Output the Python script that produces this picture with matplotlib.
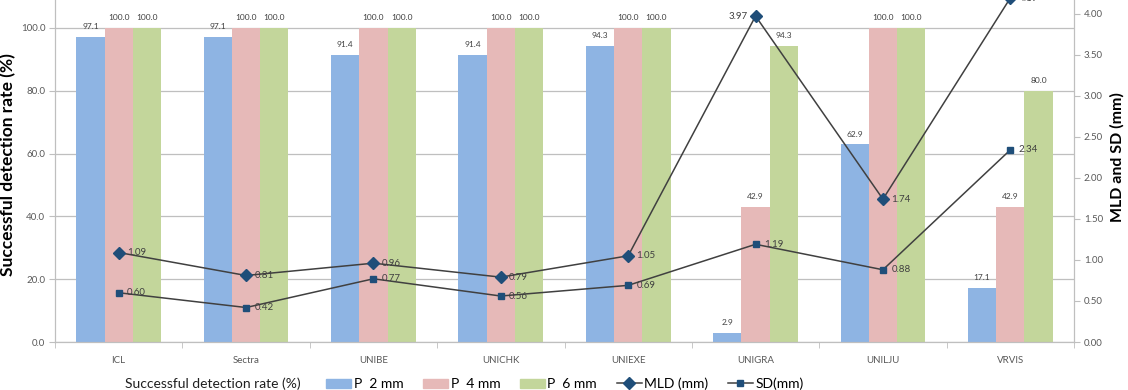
import matplotlib
matplotlib.use("Agg")
import matplotlib.pyplot as plt
import numpy as np
from matplotlib.lines import Line2D
from matplotlib.patches import Patch

plt.rcParams['font.family'] = ['Lato', 'DejaVu Sans']

categories = ["ICL", "Sectra", "UNIBE", "UNICHK", "UNIEXE", "UNIGRA", "UNILJU", "VRVIS"]
p2 = [97.1, 97.1, 91.4, 91.4, 94.3, 2.9, 62.9, 17.1]
p4 = [100.0, 100.0, 100.0, 100.0, 100.0, 42.9, 100.0, 42.9]
p6 = [100.0, 100.0, 100.0, 100.0, 100.0, 94.3, 100.0, 80.0]
mld = [1.09, 0.81, 0.96, 0.79, 1.05, 3.97, 1.74, 4.19]
sd = [0.60, 0.42, 0.77, 0.56, 0.69, 1.19, 0.88, 2.34]
left_ticks = [0, 20, 40, 60, 80, 100]
right_ticks = [0, 0.5, 1.0, 1.5, 2.0, 2.5, 3.0, 3.5, 4.0]

c_blue = "#8EB4E3"
c_pink = "#E6B9B8"
c_green = "#C3D69B"
c_line = "#404040"
c_mark = "#1F4E79"
c_txt = "#404040"
c_grid = "#BFBFBF"

W, H = 1128, 390
fig = plt.figure(figsize=(W / 100, H / 100), dpi=100)
ax_left_px, ax_right_px = 55, 1074
ax_bottom_px = 342
ax_h_px = 360
ax_w_px = ax_right_px - ax_left_px
ax = fig.add_axes([ax_left_px / W, (H - ax_bottom_px) / H, ax_w_px / W, ax_h_px / H])
L = ax_h_px / 3.14
R = ax_h_px / 82.1

x = np.arange(len(categories))
bw = 0.222
for i, (vals, col) in enumerate([(p2, c_blue), (p4, c_pink), (p6, c_green)]):
    ax.bar(x + (i - 1) * bw, vals, bw, color=col, zorder=2)
    for xi, v in zip(x + (i - 1) * bw, vals):
        ax.annotate(f"{v:.1f}", (xi, v), xytext=(0, 5), textcoords="offset points",
                    ha="center", va="bottom", fontsize=6, color=c_txt)

ax.set_xlim(-0.5, len(categories) - 0.5)
ax.set_ylim(0, L)
ax.set_yticks(left_ticks)
ax.set_yticklabels([f"{t:.1f}" for t in left_ticks], fontsize=7, color="#595959")
ax.yaxis.grid(True, color=c_grid, linewidth=0.9, zorder=0)
ax.set_axisbelow(True)
ax.set_xticks(x)
ax.set_xticklabels(categories, fontsize=7, color="#595959")
ax.set_xticks(np.arange(-0.5, len(categories) + 0.5, 1), minor=True)
ax.tick_params(axis="x", which="major", length=0, pad=10)
ax.tick_params(axis="x", which="minor", length=4, color=c_grid)
ax.tick_params(axis="y", length=4, color=c_grid, pad=3)
ax.spines["top"].set_visible(False)
for s in ["left", "bottom", "right"]:
    ax.spines[s].set_color(c_grid)
ax.set_ylabel("Successful detection rate (%)", fontsize=12.5, fontweight="bold")
ax.yaxis.set_label_coords((16 - ax_left_px) / ax_w_px, (ax_bottom_px - 165) / ax_h_px)

ax2 = ax.twinx()
ax2.set_ylim(0, R)
ax2.set_yticks(right_ticks)
ax2.set_yticklabels([f"{t:.2f}" for t in right_ticks], fontsize=7, color="#595959")
ax2.tick_params(axis="y", length=4, color=c_grid, pad=3)
ax2.spines["top"].set_visible(False)
for s in ["left", "bottom", "right"]:
    ax2.spines[s].set_color(c_grid)
ax2.set_ylabel("MLD and SD (mm)", fontsize=11.5, fontweight="bold")
ax2.yaxis.set_label_coords((1110 - ax_left_px) / ax_w_px, (ax_bottom_px - 157) / ax_h_px)

ax2.plot(x, mld, color=c_line, lw=1.1, marker="D", ms=6, mfc=c_mark, mec=c_mark, zorder=3)
ax2.plot(x, sd, color=c_line, lw=1.1, marker="s", ms=4.5, mfc=c_mark, mec=c_mark, zorder=3)
for xi, v in zip(x, mld):
    if xi == 5:
        ax2.annotate(f"{v:.2f}", (xi, v), xytext=(-6, 0), textcoords="offset points",
                     ha="right", va="center", fontsize=7, color=c_txt)
    else:
        ax2.annotate(f"{v:.2f}", (xi, v), xytext=(6, 0), textcoords="offset points",
                     ha="left", va="center", fontsize=7, color=c_txt)
for xi, v in zip(x, sd):
    ax2.annotate(f"{v:.2f}", (xi, v), xytext=(6, 0), textcoords="offset points",
                 ha="left", va="center", fontsize=7, color=c_txt)

handles = [Patch(color=c_blue), Patch(color=c_pink), Patch(color=c_green),
           Line2D([], [], color=c_line, lw=1.1, marker="D", ms=6, mfc=c_mark, mec=c_mark),
           Line2D([], [], color=c_line, lw=1.1, marker="s", ms=4.5, mfc=c_mark, mec=c_mark)]
labels = ["P  2 mm", "P  4 mm", "P  6 mm", "MLD (mm)", "SD(mm)"]
fig.legend(handles, labels, loc="center left", bbox_to_anchor=(326 / W, 6 / H), ncol=5,
           frameon=False, fontsize=10, handlelength=1.8, handletextpad=0.2,
           columnspacing=1.4, borderaxespad=0, borderpad=0)
fig.text(125 / W, 6 / H, "Successful detection rate (%)", fontsize=10, ha="left", va="center",
         color="#202020")

fig.savefig("out.png", dpi=100)
